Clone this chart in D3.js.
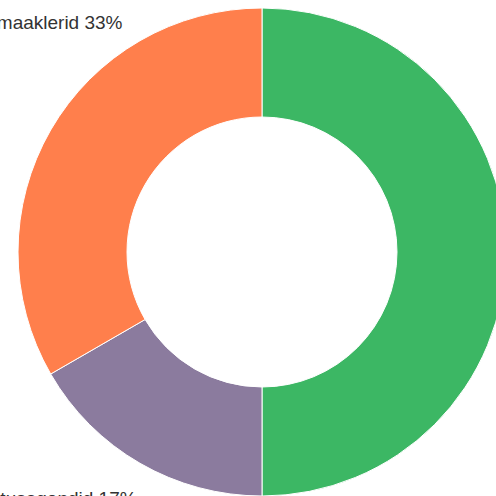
<!DOCTYPE html>
<html>
<head>
<meta charset="utf-8">
<script src="https://cdn.jsdelivr.net/npm/d3@7"></script>
<style>
  html, body { margin: 0; padding: 0; background: #fff; overflow: hidden; }
  svg { display: block; }
</style>
</head>
<body>
<svg width="496" height="496"></svg>
<script>
const width = 496;
const height = 496;

// data
const categories = ["Kindlustusandjad", "Kindlustusagendid", "Kindlustusmaaklerid"];
const values = [3, 1, 2];
const percentLabels = ["50%", "17%", "33%"];
const colors = ["#3cb764", "#8b7b9e", "#ff7f4c"];

const cx = 262, cy = 252;
const outerR = 244, innerR = 135;

// label placement along each slice (fraction of slice) and its distance from centre
const labelFrac = [0.5, 0.44, 0.733];
const labelDist = [272, 282, 263];

const svg = d3.select("svg");
const g = svg.append("g")
    .attr("transform", `translate(${cx}, ${cy})`);

const pie = d3.pie().sort(null).value(d => d);
const arcs = pie(values);

const arc = d3.arc()
    .innerRadius(innerR)
    .outerRadius(outerR);

// slices
g.selectAll("path.slice")
    .data(arcs)
    .join("path")
        .attr("class", "slice")
        .attr("d", arc)
        .attr("fill", (d, i) => colors[i])
        .attr("stroke", "#fff")
        .attr("stroke-width", 1);

const labelAngle = (d, i) => d.startAngle + (d.endAngle - d.startAngle) * labelFrac[i];

// labels
g.selectAll("text.label")
    .data(arcs)
    .join("text")
        .attr("class", "label")
        .attr("x", (d, i) => Math.sin(labelAngle(d, i)) * labelDist[i])
        .attr("y", (d, i) => -Math.cos(labelAngle(d, i)) * labelDist[i])
        .attr("text-anchor", (d, i) => labelAngle(d, i) > Math.PI ? "end" : "start")
        .style("font-family", "'Liberation Sans', Arial, sans-serif")
        .style("font-size", "19px")
        .style("fill", "#333")
        .text((d, i) => `${categories[i]} ${percentLabels[i]}`);
</script>
</body>
</html>
